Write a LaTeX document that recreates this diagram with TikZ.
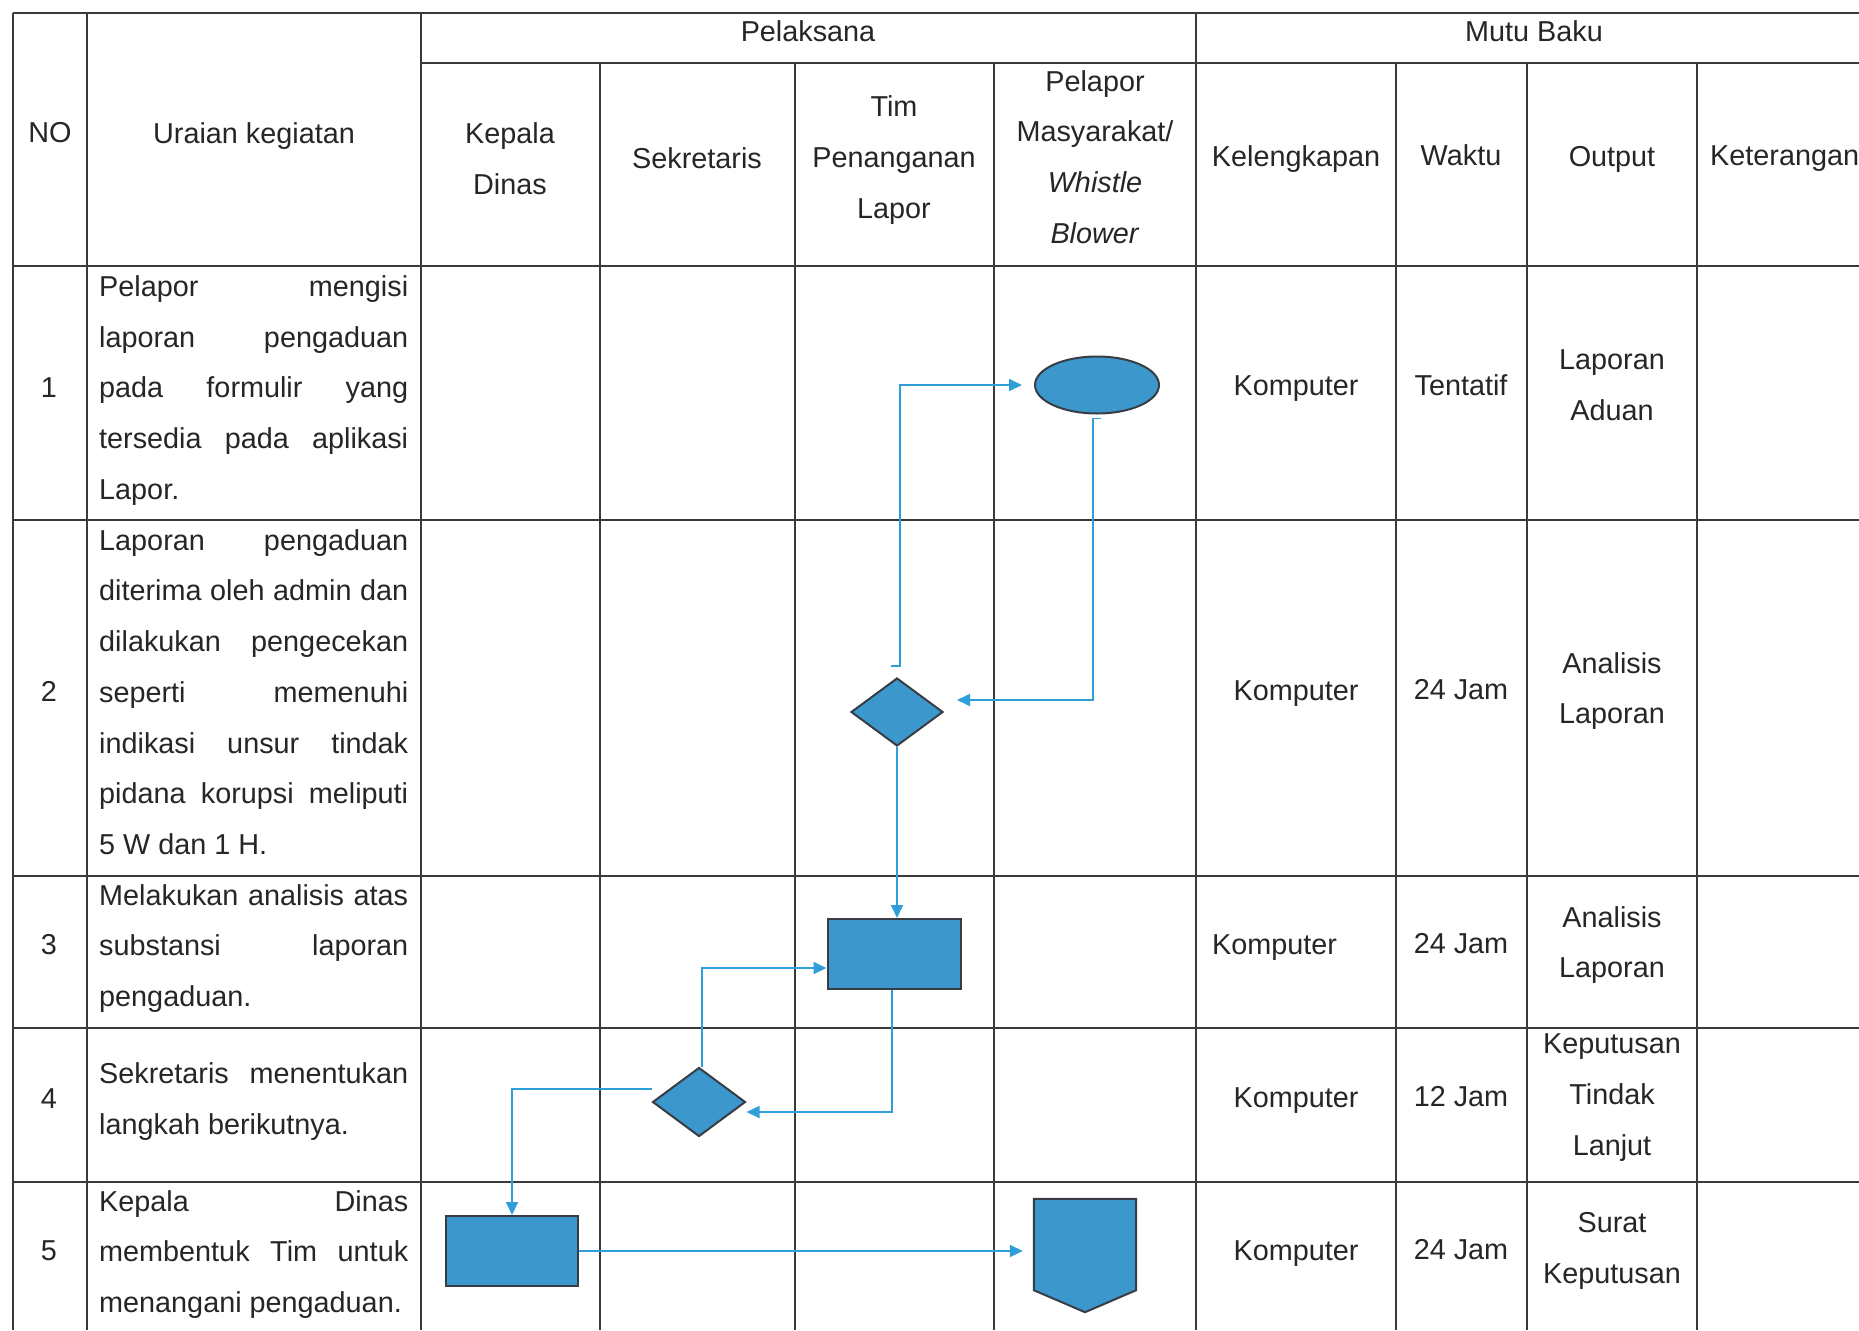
\documentclass[tikz,border=0pt]{standalone}
\usepackage{fontspec}
\setmainfont{Liberation Sans}
\usepackage{xcolor}
\usepackage{tikz}
\usetikzlibrary{arrows.meta}
\usetikzlibrary{shapes.geometric, calc}

\definecolor{bleuforme}{HTML}{3C97CC}
\definecolor{bleufleche}{HTML}{2E9FD8}
\definecolor{bordforme}{HTML}{383D45}
\definecolor{trait}{HTML}{3A3A3A}
\definecolor{texte}{HTML}{262626}

\begin{document}
\begin{tikzpicture}[x=1pt, y=-1pt,
    txt/.style={font={\fontsize{28.8pt}{50.7pt}\selectfont\tolerance=10000\hyphenpenalty=10000},
        text=texte, align=center, inner sep=0pt},
    uraian/.style={txt, align=justify, text width=309pt, anchor=west},
    forme/.style={draw=bordforme, line width=2pt, fill=bleuforme, inner sep=0pt},
    fleche/.style={draw=bleufleche, line width=1.7pt, -{Triangle[length=13pt,width=12pt]}},
    grille/.style={draw=trait, line width=1.3pt}]
        % Fond et cadre de la page
        \fill[white] (0,0) rectangle (1859,1330);
        \useasboundingbox (0,0) rectangle (1859,1330);

        % Lignes du tableau
        \draw[grille] (13,13) -- (1872,13);
        \draw[grille] (421,63) -- (1872,63);
        \draw[grille] (13,266) -- (1872,266);
        \draw[grille] (13,520) -- (1872,520);
        \draw[grille] (13,876) -- (1872,876);
        \draw[grille] (13,1028) -- (1872,1028);
        \draw[grille] (13,1182) -- (1872,1182);
        \draw[grille] (13,13) -- (13,1330);
        \draw[grille] (87,13) -- (87,1330);
        \draw[grille] (421,13) -- (421,1330);
        \draw[grille] (1196,13) -- (1196,1330);
        \draw[grille] (600,63) -- (600,1330); % Sekretaris
        \draw[grille] (795,63) -- (795,1330); % Tim
        \draw[grille] (994,63) -- (994,1330); % Pelapor
        \draw[grille] (1396,63) -- (1396,1330); % Waktu
        \draw[grille] (1527,63) -- (1527,1330); % Output
        \draw[grille] (1697,63) -- (1697,1330); % Keterangan

        % En-tete
        \node[txt] (hno) at (50,133) {NO};
        \node[txt] (hura) at (254,136) {Uraian kegiatan};
        \node[txt] (hpel) at (808,31) {Pelaksana};
        \node[txt] (hmutu) at (1534,31) {Mutu Baku};
        \node[txt] (hkadis) at (510,159) {Kepala\\Dinas};
        \node[txt] (hsek) at (697,158) {Sekretaris};
        \node[txt] (htim) at (894,160) {Tim\\Penanganan\\Lapor};
        \node[txt] (hlapor) at (1095,157) {Pelapor\\Masyarakat/\\\textit{Whistle}\\\textit{Blower}};
        \node[txt] (hkel) at (1296,159) {Kelengkapan};
        \node[txt] (hwak) at (1461,155) {Waktu};
        \node[txt] (hout) at (1612,159) {Output};
        \node[txt, anchor=west] (hket) at (1710,159) {Keterangan};

        % Numeros et uraian
        \node[txt] (no1) at (49,388) {1};
        \node[txt] (no2) at (49,691) {2};
        \node[txt] (no3) at (49,945) {3};
        \node[txt] (no4) at (49,1099) {4};
        \node[txt] (no5) at (49,1251) {5};
        \node[uraian] (ur1) at (99,390.5) {Pelapor mengisi\linebreak laporan pengaduan\linebreak pada formulir yang\linebreak tersedia pada aplikasi\linebreak Lapor.};
        \node[uraian] (ur2) at (99,692) {Laporan pengaduan\linebreak diterima oleh admin dan\linebreak dilakukan pengecekan\linebreak seperti memenuhi\linebreak indikasi unsur tindak\linebreak pidana korupsi meliputi\linebreak 5 W dan 1 H.};
        \node[uraian] (ur3) at (99,948.5) {Melakukan analisis atas\linebreak substansi laporan\linebreak pengaduan.};
        \node[uraian] (ur4) at (99,1101.5) {Sekretaris menentukan\linebreak langkah berikutnya.};
        \node[uraian] (ur5) at (99,1254.5) {Kepala Dinas\linebreak membentuk Tim untuk\linebreak menangani pengaduan.};

        % Mutu baku
        \node[txt] (kel1) at (1296,389) {Komputer};
        \node[txt] (kel2) at (1296,694) {Komputer};
        \node[txt, anchor=west] (kel3) at (1212,948) {Komputer};
        \node[txt] (kel4) at (1296,1101) {Komputer};
        \node[txt] (kel5) at (1296,1254) {Komputer};
        \node[txt] (wak1) at (1461,385) {Tentatif};
        \node[txt] (wak2) at (1461,690) {24 Jam};
        \node[txt] (wak3) at (1461,944) {24 Jam};
        \node[txt] (wak4) at (1461,1097) {12 Jam};
        \node[txt] (wak5) at (1461,1250) {24 Jam};
        \node[txt] (out1) at (1612,385) {Laporan\\Aduan};
        \node[txt] (out2) at (1612,691) {Analisis\\Laporan};
        \node[txt] (out3) at (1612,945) {Analisis\\Laporan};
        \node[txt] (out4) at (1612,1097.5) {Keputusan\\Tindak\\Lanjut};
        \node[txt] (out5) at (1612,1251) {Surat\\Keputusan};

        % Symboles du diagramme
        \node[forme, ellipse, minimum width=124pt, minimum height=57pt] (mulai) at (1097,385) {};
        \node[forme, diamond, minimum width=92pt, minimum height=68pt] (cek) at (897,712) {};
        \node[forme, rectangle, minimum width=133pt, minimum height=70pt] (analisis) at (894,954) {};
        \node[forme, diamond, minimum width=93pt, minimum height=69pt] (putus) at (699,1102) {};
        \node[forme, rectangle, minimum width=132pt, minimum height=70pt] (bentuk) at (512,1251) {};
        \node[inner sep=0pt, minimum width=102pt, minimum height=91pt] (sk) at (1085,1244.5) {};
        \draw[forme] (sk.north west) -- (sk.north east) -- (sk.south east)
            -- ([yshift=-22pt]sk.south) -- (sk.south west) -- cycle;

        % Fleches
        \draw[fleche, shorten >=12pt] ([xshift=-6pt,yshift=11pt]cek.north) -- ++(9,0) |- (mulai.west);
        \draw[fleche] ([xshift=4pt,yshift=-4pt]mulai.south) -- ++(-8,0) |- ([xshift=13pt,yshift=12pt]cek.east);
        \draw[fleche] (cek.south) -- (cek.south |- analisis.north);
        \draw[fleche] ([xshift=-2pt]analisis.south) |- ([yshift=-10pt]putus.east);
        \draw[fleche] ([xshift=3pt]putus.north) |- ([yshift=-14pt]analisis.west);
        \draw[fleche] ([yshift=13pt]putus.west) -| (bentuk.north);
        \draw[fleche, shorten >=11pt] (bentuk.east) -- (bentuk.east -| sk.west);
    \end{tikzpicture}
\end{document}
